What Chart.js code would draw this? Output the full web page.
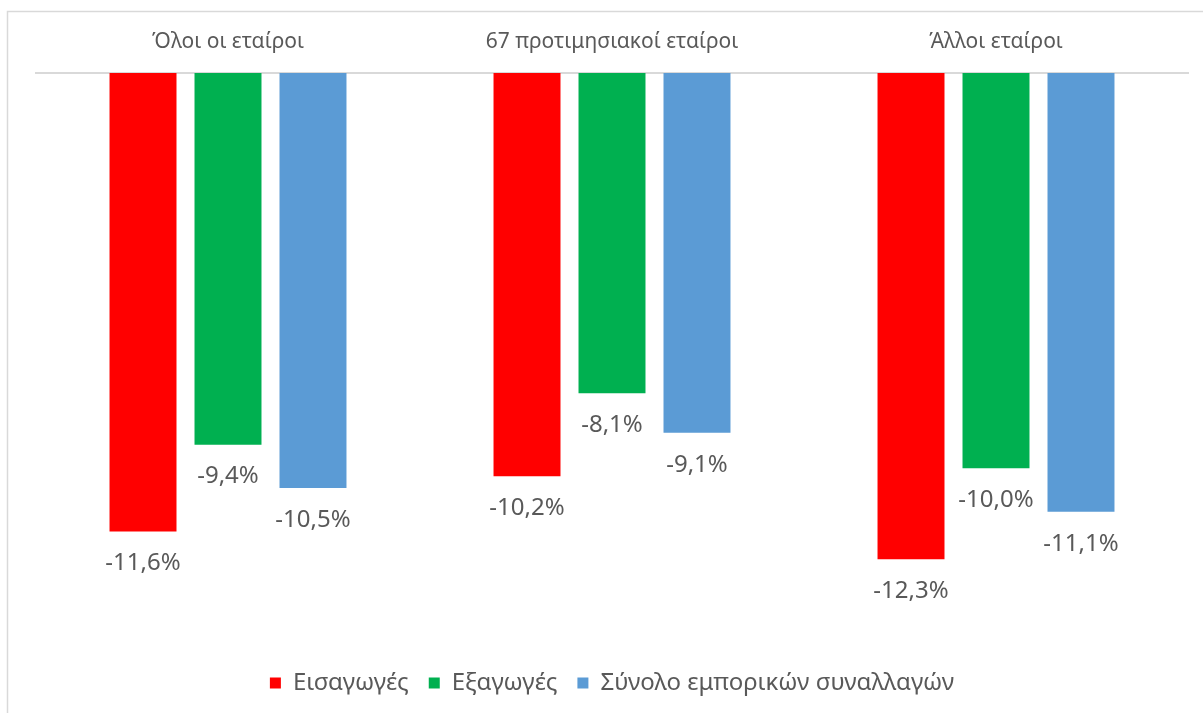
<!DOCTYPE html>
<html>
<head>
<meta charset="utf-8">
<script src="https://cdn.jsdelivr.net/npm/chart.js@4/dist/chart.umd.min.js"></script>
<style>
  html, body { margin: 0; padding: 0; background: #fff; }
  #wrap { width: 1203px; height: 713px; position: relative; }
</style>
</head>
<body>
<div id="wrap"><canvas id="chart" width="1203" height="713"></canvas></div>
<script>
const categories = ['Όλοι οι εταίροι', '67 προτιμησιακοί εταίροι', 'Άλλοι εταίροι'];
const imports = [-11.6, -10.2, -12.3];
const exports = [-9.4, -8.1, -10.0];
const totalTrade = [-10.5, -9.1, -11.1];
const seriesNames = ['Εισαγωγές', 'Εξαγωγές', 'Σύνολο εμπορικών συναλλαγών'];

const textColor = '#595959';
const fontFamily = "'Noto Sans', 'Open Sans', sans-serif";

// chart area border like the excel frame
const framePlugin = {
    id: 'frame',
    beforeDraw: (chart) => {
        const ctx = chart.ctx;
        ctx.save();
        ctx.fillStyle = '#fff';
        ctx.fillRect(0, 0, chart.width, chart.height);
        ctx.strokeStyle = '#d9d9d9';
        ctx.lineWidth = 1.5;
        ctx.strokeRect(7.5, 11.5, 1400, 900);
        ctx.restore();
    }
};

// value labels under each bar
const valueLabels = {
    id: 'valueLabels',
    afterDatasetsDraw: (chart) => {
        const ctx = chart.ctx;
        ctx.save();
        ctx.fillStyle = textColor;
        ctx.font = '24px ' + fontFamily;
        ctx.textAlign = 'center';
        ctx.textBaseline = 'middle';
        chart.data.datasets.forEach((ds, i) => {
            const meta = chart.getDatasetMeta(i);
            meta.data.forEach((bar, j) => {
                const txt = ds.data[j].toFixed(1).replace('.', ',') + '%';
                ctx.fillText(txt, bar.x, bar.y + 32);
            });
        });
        ctx.restore();
    }
};

new Chart(document.getElementById('chart'), {
    type: 'bar',
    plugins: [framePlugin, valueLabels],
    data: {
        labels: categories,
        datasets: [
            { label: seriesNames[0], data: imports, backgroundColor: '#ff0000' },
            { label: seriesNames[1], data: exports, backgroundColor: '#00b050' },
            { label: seriesNames[2], data: totalTrade, backgroundColor: '#5b9bd5' }
        ]
    },
    options: {
        responsive: false,
        animation: false,
        categoryPercentage: 0.664,
        barPercentage: 0.788,
        layout: { padding: { left: 36, right: 15, top: 0, bottom: 8 } },
        scales: {
            x: {
                position: 'top',
                grid: { display: false, drawTicks: false },
                border: { display: true, color: '#d9d9d9', width: 2 },
                ticks: { color: textColor, font: { family: fontFamily, size: 21 }, padding: 18 },
                afterFit: (scale) => { scale.height = 73; }
            },
            y: {
                display: false,
                min: -14.62,
                max: 0
            }
        },
        plugins: {
            legend: {
                position: 'bottom',
                labels: {
                    color: textColor,
                    font: { family: fontFamily, size: 24 },
                    boxWidth: 11,
                    boxHeight: 11,
                    padding: 20
                }
            },
            tooltip: { enabled: false }
        }
    }
});
</script>
</body>
</html>
